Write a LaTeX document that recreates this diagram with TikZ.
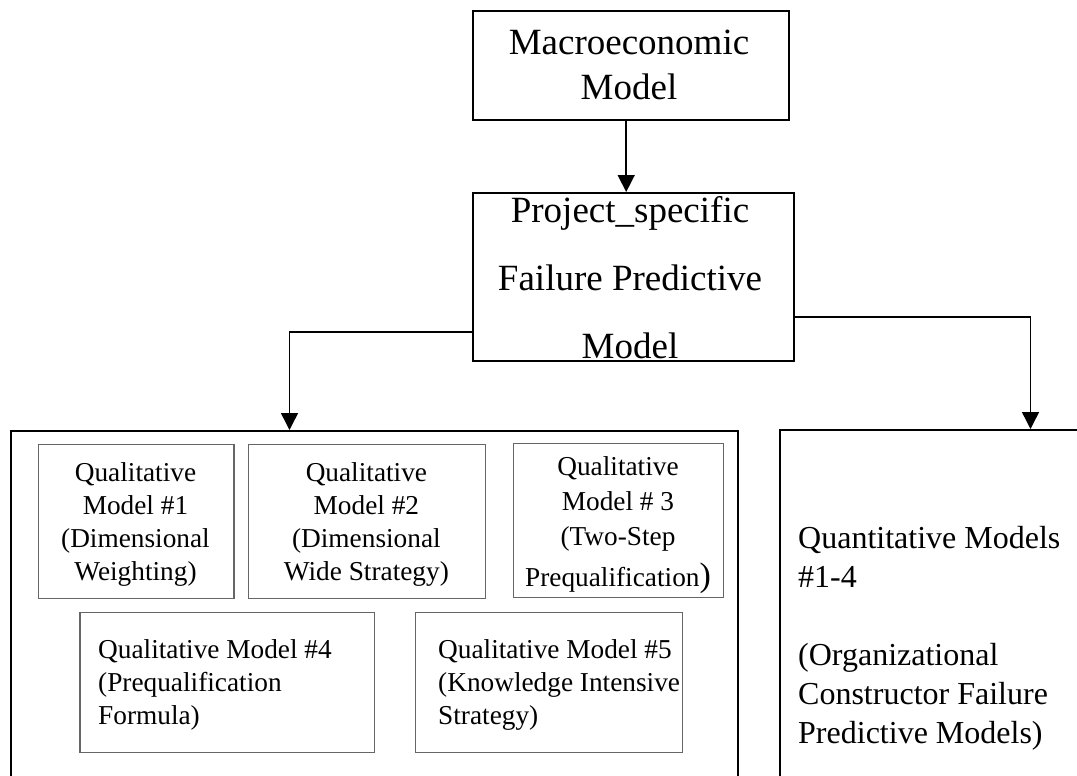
\documentclass[tikz,border=0pt]{standalone}
\usepackage{fontspec}
\setmainfont{Liberation Serif}
\usetikzlibrary{arrows.meta}
\tikzset{
  outerbox/.style={draw=black, line width=2pt, inner sep=0pt, anchor=north west},
  innerbox/.style={draw=black!60, line width=1.3pt, inner sep=0pt, anchor=north west},
  conn/.style={draw=black, line width=1.5pt, -{Triangle[width=17pt,length=17pt]}},
  bigtxt/.style={inner sep=0pt, anchor=base, font=\fontsize{37}{45}\selectfont},
  smalltxt/.style={inner sep=0pt, font=\fontsize{27.3}{33}\selectfont},
}
\begin{document}
\begin{tikzpicture}[x=1pt,y=-1pt]
\useasboundingbox (0,0) rectangle (1077,776);
\clip (0,0) rectangle (1077,776);

% boxes
\node[outerbox, line width=2.4pt, minimum width=316pt, minimum height=109pt] (macro) at (472,10) {};
\node[outerbox, minimum width=321pt, minimum height=168pt] (proj) at (472,192) {};
\node[outerbox, minimum width=727pt, minimum height=420pt] (left) at (10,430) {};
\node[outerbox, minimum width=400pt, minimum height=420pt] (right) at (779,429) {};

\node[innerbox, minimum width=195.6pt, minimum height=153.7pt] (q1) at (37.7,444) {};
\node[innerbox, minimum width=237.3pt, minimum height=154pt] (q2) at (247.7,444) {};
\node[innerbox, minimum width=210pt, minimum height=154pt] (q3) at (513,443) {};
\node[innerbox, minimum width=294.3pt, minimum height=140.3pt] (q4) at (79.3,611.7) {};
\node[innerbox, minimum width=267pt, minimum height=140pt] (q5) at (415,612) {};

% texts
\node[bigtxt] (macroT) at (629,55) {\begin{tabular}[t]{@{}c@{}}Macroeconomic\\Model\end{tabular}};
\node[bigtxt, font=\fontsize{37}{68}\selectfont] (projT) at (630,222) {\begin{tabular}[t]{@{}c@{}}Project\_specific\\Failure Predictive\\Model\end{tabular}};

\node[smalltxt, anchor=base] (q1T) at (135.5,481) {\begin{tabular}[t]{@{}c@{}}Qualitative\\Model \#1\\(Dimensional\\Weighting)\end{tabular}};
\node[smalltxt, anchor=base] (q2T) at (366.4,481) {\begin{tabular}[t]{@{}c@{}}Qualitative\\Model \#2\\(Dimensional\\Wide Strategy)\end{tabular}};
\node[smalltxt, anchor=base, font=\fontsize{27.3}{35}\selectfont] (q3T) at (618,475) {\begin{tabular}[t]{@{}c@{}}Qualitative\\Model \# 3\\(Two-Step\\[6pt]Prequalification{\fontsize{34}{34}\selectfont)}\end{tabular}};
\node[smalltxt, anchor=base west] (q4T) at (98,658) {\begin{tabular}[t]{@{}l@{}}Qualitative Model \#4\\(Prequalification\\Formula)\end{tabular}};
\node[smalltxt, anchor=base west] (q5T) at (438,658) {\begin{tabular}[t]{@{}l@{}}Qualitative Model \#5\\(Knowledge Intensive\\Strategy)\end{tabular}};

\node[inner sep=0pt, anchor=base west, font=\fontsize{32}{39}\selectfont] (quantT) at (798,548) {\begin{tabular}[t]{@{}l@{}}Quantitative Models\\\#1-4\\ \\(Organizational\\Constructor Failure\\Predictive Models)\end{tabular}};

% connectors
\coordinate (lk) at (289.5,332);
\coordinate (rk) at (1030.5,317);
\draw[conn] ([xshift=-5pt]macro.south) -- ([xshift=-5pt]macro.south |- proj.north);
\draw[conn] (proj.west |- lk) -- (lk) -- (lk |- left.north);
\draw[conn] (proj.east |- rk) -- (rk) -- (rk |- right.north);
\end{tikzpicture}
\end{document}
